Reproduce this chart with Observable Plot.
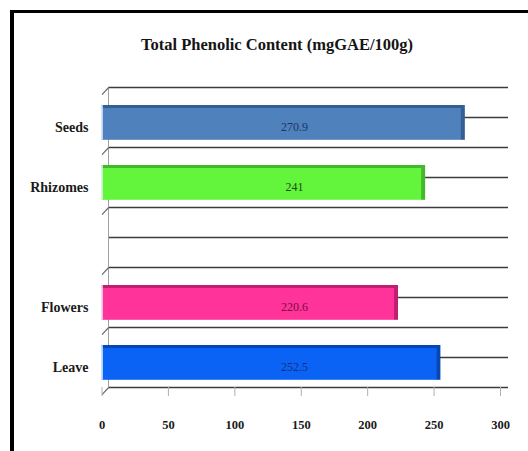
<!DOCTYPE html>
<html>
<head>
<meta charset="utf-8">
<script src="https://cdn.jsdelivr.net/npm/d3@7"></script>
<script src="https://cdn.jsdelivr.net/npm/@observablehq/plot@0.6"></script>
<style>
  html, body { margin: 0; padding: 0; background: #fff; overflow: hidden; }
  body { width: 528px; height: 451px; position: relative; }
  #title {
    box-sizing: border-box; width: 528px; height: 70px;
    padding-top: 35px; padding-left: 26px;
    text-align: center; line-height: 18px;
    font: bold 16.5px "Liberation Serif", "Times New Roman", serif; color: #151515;
  }
  #box {
    position: absolute; left: 10px; top: 10px; width: 640px; height: 640px;
    border-top: 3px solid #000; border-left: 4px solid #000; pointer-events: none;
  }
  svg { display: block; }
</style>
</head>
<body>
<div id="title">Total Phenolic Content (mgGAE/100g)</div>
<div id="chart"></div>
<div id="box"></div>
<script>
// Plant parts, top to bottom (one empty row between Rhizomes and Flowers)
const categories = ["Seeds", "Rhizomes", "", "Flowers", "Leave"];
// Total phenolic content, mgGAE/100g
const values = [270.9, 241, null, 220.6, 252.5];
// Value axis ticks
const xTicks = [0, 50, 100, 150, 200, 250, 300];

// Face, edge and label colours per part
const faceColor = {Seeds: "#4f81bd", Rhizomes: "#62f53c", Flowers: "#ff3399", Leave: "#0b63f6"};
const edgeColor = {Seeds: "#365f91", Rhizomes: "#43b828", Flowers: "#c21e6e", Leave: "#0746b6"};
const inkColor = {Seeds: "#1c3560", Rhizomes: "#1d4a12", Flowers: "#7a0d3e", Leave: "#132f7c"};

const rows = categories.map((name, i) => ({name, i, value: values[i]}));
const bars = rows.filter(d => d.value != null);

// bar sits in the lower part of each row (3-D floor offset)
const barTop = d => d.i + 0.30;
const barBottom = d => d.i + 0.88;

const chart = Plot.plot({
  width: 528,
  height: 381,
  marginLeft: 108,
  marginRight: 20,
  marginTop: 17,
  marginBottom: 64,
  x: {domain: [0, 300], range: [101.5, 500]},
  y: {domain: [0, categories.length], range: [17, 317]},
  style: {background: "transparent", fontFamily: "'Liberation Serif', 'Times New Roman', serif"},
  marks: [
    // back-wall grid: row edges and row centres
    Plot.ruleY(d3.range(0, categories.length + 0.5, 0.5), {stroke: "#3c3c3c", strokeWidth: 1.6}),
    // side wall
    Plot.frame({anchor: "left", stroke: "#a0a0a0"}),
    Plot.link(d3.range(0, categories.length + 1), {
      x1: 0, x2: 5, y1: d => d + 0.12, y2: d => d, stroke: "#6a6a6a", strokeWidth: 1.2
    }),
    // bar front faces
    Plot.rect(bars, {x1: 0, x2: "value", y1: barTop, y2: barBottom, fill: d => faceColor[d.name]}),
    // bar top faces
    Plot.rect(bars, {x1: 0, x2: "value", y1: barTop, y2: d => d.i + 0.35, fill: d => edgeColor[d.name]}),
    // bar end faces
    Plot.ruleX(bars, {x: "value", y1: barTop, y2: barBottom, dx: 1, stroke: d => edgeColor[d.name], strokeWidth: 4}),
    // light left edge
    Plot.ruleX(bars, {x: 0, y1: barTop, y2: barBottom, stroke: "#e4f0ff", strokeWidth: 1.5}),
    // value labels
    Plot.text(bars, {
      x: 145, y: d => d.i + 0.5, dy: 10, text: d => String(d.value),
      fill: d => inkColor[d.name], fontSize: 12
    }),
    Plot.axisY(bars.map(d => d.i + 0.5), {
      tickFormat: t => categories[Math.floor(t)],
      tickSize: 0, tickPadding: 20, dy: 10, label: null,
      fontSize: 14, fontWeight: "bold", fill: "#1a1a1a"
    }),
    Plot.axisX(xTicks, {
      tickSize: 9, tickPadding: 24, label: null, stroke: "#b0b0b0",
      fontSize: 12.5, fontWeight: "bold", fill: "#1a1a1a"
    })
  ]
});
document.getElementById("chart").appendChild(chart);
</script>
</body>
</html>
